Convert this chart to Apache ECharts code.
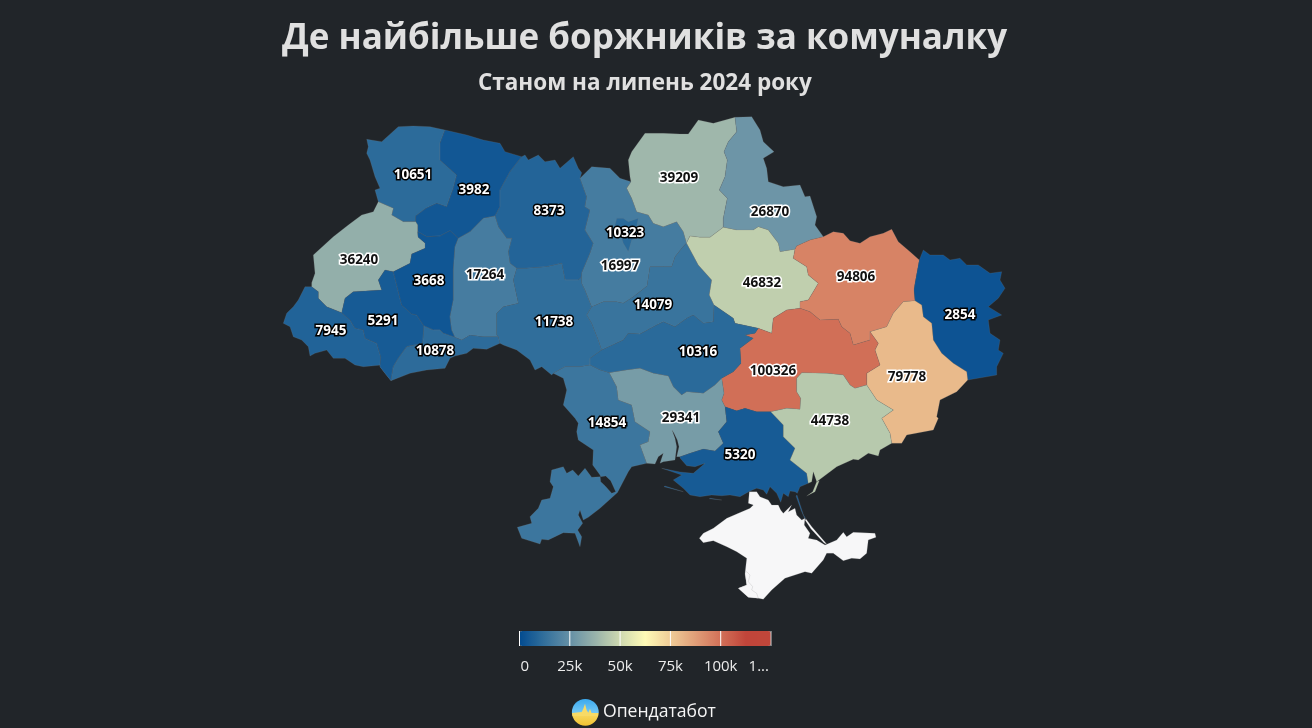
<!DOCTYPE html>
<html>
<head>
<meta charset="utf-8">
<title>Де найбільше боржників за комуналку</title>
<script src="https://cdn.jsdelivr.net/npm/echarts@6/dist/echarts.min.js"></script>
<style>
  html, body { margin: 0; padding: 0; background: #212529; }
  #chart { width: 1312px; height: 728px; }
</style>
</head>
<body>
<div id="chart"></div>
<script>
// дані
const regions = ['Волинська', 'Рівненська', 'Житомирська', 'Львівська', 'Закарпатська', 'Івано-Франківська',
  'Тернопільська', 'Хмельницька', 'Чернівецька', 'Вінницька', 'Київська', 'Київ', 'Черкаська', 'Чернігівська',
  'Сумська', 'Полтавська', 'Харківська', 'Луганська', 'Донецька', 'Дніпропетровська', 'Кіровоградська',
  'Одеська', 'Миколаївська', 'Херсонська', 'Запорізька'];
const debtors = [10651, 3982, 8373, 36240, 7945, 5291,
  3668, 17264, 10878, 11738, 16997, 10323, 14079, 39209,
  26870, 46832, 94806, 2854, 79778, 100326, 10316,
  14854, 29341, 5320, 44738];
const tickValues = [0, 25000, 50000, 75000, 100000, 125000];
const tickLabels = ['0', '25k', '50k', '75k', '100k', '1...'];
const scaleColors = ['#024b90', '#33709c', '#6590a6', '#98b2aa', '#ced9b0', '#fefab6',
  '#efcc97', '#e09e78', '#d17058', '#c0453a', '#c0463a'];

// контури областей (базова карта), спільні межі задані один раз
const arcs = {
  volyn_outer: '378.3,201.7 375,190 380,188.3 375,176.7 370,160 366.7,153.3 368.3,146.7 366.7,139.3 381.7,141.7 398.3,126.7 413.3,126 430,126.7 445,130',
  volyn_rivne: '445,130 440,143.3 440,160 456.7,175 453.3,188.3 446.7,206.7 436.7,203.3 426,208.3 415.7,216 415.7,221.7',
  lviv_volyn: '415.7,221.7 403.3,221.7 391.7,215 393.3,208.3 378.3,201.7',
  rivne_north: '445,130 466.7,135 483.3,140 500,143.3 505,151.7 521.7,156.7',
  rivne_zhyt: '521.7,156.7 510,171.7 500,190 500,206.7 495,216',
  rivne_khm: '495,216 483.3,218.3 470,231.7 458.3,238.3',
  rivne_tern: '458.3,238.3 450,230.7 440,236 426.7,236.7 417.7,231.7',
  rivne_lviv: '417.7,231.7 417.7,225 415.7,221.7',
  lviv_outer: '378.3,201.7 373.3,211.7 361.7,215 348.3,225 333.3,236.7 313.3,255 315,273.3 311.7,282.7 311.7,286.7',
  lviv_zak: '311.7,286.7 318.3,291.7 318.3,298.3 326.7,306.7 341.7,312.7',
  lviv_if: '341.7,312.7 345,298.3 353.3,291.7 381.7,290 378.3,280 385,270 393.3,271.7',
  lviv_tern: '393.3,271.7 410,263.3 411.7,254 425,248.3 425,243 418,237 417.7,231.7',
  tern_khm: '458.3,238.3 455,246.7 453.3,270 453.3,300 450,316.7 451.7,330 455,337.3',
  tern_if: '393.3,271.7 398.3,291.7 401.7,305 411.7,314 416.7,315 424,326',
  tern_chern: '424,326 433.3,330 440,330 443.3,333.3 455,337.3',
  if_chern: '424,326 422.7,343.3 406.7,346.7 398.3,358.3 393.3,366.7 391,380.7',
  if_zak: '341.7,312.7 350,320 355,328.3 363.3,330 365,338.3 376.7,343.3 380.7,356.7 380,366.7 385,373.3 391,380.7',
  zak_outer: '311.7,286.7 305,286.7 298.3,300 293.3,306.7 286.7,313.3 283.3,323.3 290,326.7 293.3,336.7 301.7,340 308.3,346.7 310,356 315,353.3 326.7,350 333.3,358.3 345,358.3 355,365 363.3,366.7 381.7,365 391,380.7',
  chern_khm: '455,337.3 461.7,340 470,335 483.3,336.7 498.3,336.7',
  chern_outer: '391,380.7 410,373.3 426.7,370 445,368.3 450,358.3 455,356 466.7,353.3 473.3,348.3 486.7,349.3 500,343.3',
  chern_vinn: '498.3,336.7 500,343.3',
  khm_vinn: '516.7,268.3 513.3,280 518.3,303.3 503.3,306.7 496.7,313.3 496.7,335 498.3,336.7',
  khm_zhyt: '495,216 498.3,226.7 506.7,238.3 511.7,238.3 508.3,251.7 510,263.3 516.7,268.3',
  zhyt_vinn: '516.7,268.3 526.7,268.3 546.7,266.7 561.7,263.3 565,280 578.3,280 581.7,276.7',
  zhyt_kyiv: '580,178.3 586.7,196.7 585,206.7 590,210 585,230 593.3,243.3 590,253.3 581.7,273 581.7,276.7',
  zhyt_north: '521.7,156.7 525,155 528.3,160 538.3,155 545,161.7 555,160 560,168.3 573.3,156.7 578.3,168.3 581.7,172.7 580,178.3',
  kyiv_north: '580,178.3 591.7,166.7 610,168.3 620,178.3 631,181.7',
  kyiv_chern: '631,181.7 626.7,188.3 631.7,198.3 636.7,211.7 648.3,215 653.3,223.3 663.3,226.7 676.7,221.7 683.3,231.7 686.5,243',
  kyiv_vinn: '581.7,276.7 581.7,283.3 585,290 591.7,306.7',
  kyiv_cherk: '591.7,306.7 603.3,301.7 616.7,301.7 623.3,303.3 633.3,296.7 647,286 650,266.7 663.3,266.7 671.7,266.7 675,256.7 681.7,248.3 686.5,243',
  chern_north: '631,181.7 630,176.7 628.3,160 631.7,151.7 645,133.3 663.3,133.3 680,134 688.3,134 698.3,120 713.3,123.3 735,117.3',
  chern_sumy: '735,117.3 736.7,131.7 728.3,141.7 724,151.7 727.3,160 725,176.7 719.3,190 727.3,198.3 723.3,218.3 723.3,227.3',
  chern_pol: '686.5,243 690,236 700,237.3 710,237.3 723.3,227.3',
  sumy_outer: '735,117.3 751.7,116.7 760,130 763.3,141.7 774,151.7 763.3,158.3 766.7,168.3 768.3,181.7 783.3,186.7 800,185 805,196.7 810,196 816.7,216.7 815,225 823.3,236.7',
  sumy_pol: '723.3,227.3 736.7,230 753.3,230 758.3,226.7 768.3,230 778.3,243.3 780,251.7 795,249.3',
  sumy_kh: '823.3,236.7 810,240 796.7,246 795,249.3',
  kh_outer: '823.3,236.7 833.3,231.7 843.3,233.3 850,240.7 860,243.3 870,236.7 883.3,233.3 891.7,229.3 898.3,241.7 910,251.7 919.3,260',
  kh_luh: '919.3,260 915,283.3 914,290 915,300.7',
  kh_don: '870,331.7 886.7,326.7 893.3,313.3 903.3,301.7 915,300.7',
  kh_dni: '800,308.3 810,311.7 820,320 838.3,319.3 841.7,326.7 850,333.3 853.3,345 870,340 870,331.7',
  kh_pol: '795,249.3 793.3,258.3 806.7,266.7 808.3,275 818.3,283.3 813.3,291.7 808.3,300 800,301.7 800,308.3',
  pol_dni: '758.3,328.3 771.7,333.3 773.3,318.3 786.7,310 800,308.3',
  pol_kir: '714,305 733.3,318.3 735,323.3 758.3,328.3',
  pol_cherk: '686.5,243 698.3,265 711.7,280 709.3,295 714,305',
  cherk_kir: '601.7,350 623.3,340 628.3,333.3 640,334 656.7,325 663.3,321.7 675,326.7 686.7,318.3 693.3,315 703.3,323.3 713.3,321.7 714,305',
  vinn_cherk: '591.7,306.7 586.7,315 591.7,323.3 598.3,340 601.7,350',
  vinn_kir: '601.7,350 590,358.3 590,365',
  vinn_od: '590,365 580,366.7 565,366.7 553.3,373.3',
  vinn_outer: '500,343.3 503.3,345 516.7,350 530,360 535,370 541.7,366.7 551.7,375 553.3,373.3',
  kir_od: '609.3,372.7 600,370 590,365',
  kir_myk: '609.3,372.7 626.7,370 640,368.3 653.3,373.3 668.3,376 673.3,386.7 681.7,395 686.7,391.7 703.3,393.3 715,385 721.7,378.3',
  kir_dni: '758.3,328.3 755,333.3 745,335 753.3,338.3 740,348.3 741,363.3 733.3,371.7 721.7,378.3',
  dni_myk: '721.7,378.3 724,393.3 721.7,400 725,406.7',
  dni_khe: '725,406.7 736.7,410.7 745,408.3 756.7,411.7 770.7,411.7',
  dni_zap: '770.7,411.7 786.7,408.3 800,409.3 800.7,398.3 796.7,391.7 796.7,378.3 801.7,372.7 826.7,373.3 843.3,375 850,385 855,388.3 866.7,385',
  dni_don: '870,331.7 878.3,343.3 875,350 880,365 866.7,373.3 866.7,385',
  don_luh: '915,300.7 921.7,305 923.3,316.7 931.7,323.3 933.3,340 941.7,353.3 953.3,363.3 966.7,371.7 967.7,380',
  luh_outer: '919.3,260 923.3,250 930,255 943.3,255 950,260 960,258.3 966.7,265 978.3,265 990,273.3 1001.7,271.7 1000,280 1005,288.3 998.3,298.3 988.3,306.7 1001.7,315 988.3,320 990,333.3 1000,340 998.3,350 1003.3,353.3 996.7,366.7 996.7,375 967.7,380',
  don_outer: '967.7,380 956.7,391.7 940,400 936.7,416.7 938.3,418.3 933.3,430 906.7,435 901.7,443.3 891.7,443.3',
  don_zap: '866.7,385 876.7,400 893.3,410 881.7,418.3 890,433.3 891.7,443.3',
  zap_coast: '891.7,443.3 880,450 878.3,456 868.3,453.3 858.3,460 853.3,459.3 836.7,466.7 816.7,481.7 813.3,471.7 811.7,481.7 808.3,483.3',
  zap_khe: '770.7,411.7 783.3,425 783.3,436.7 795,448.3 790,460 806.7,473.3 808.3,483.3',
  khe_myk: '725,406.7 726.7,421.7 718.3,431.7 723.3,443.3 715,451 703.3,449 690,453.3 680,456.7',
  khe_coast: '808.3,483.3 800,486.7 797.3,493.3 795,491.7 790,491 788.3,496.7 783.3,493.3 780.7,502.3 776.7,493.3 770,486.7 766.7,494.3 763.3,490 756.7,488.3 750,491 740,496.7 730,495 721.7,495.7 711.7,495 700,496.7 690,495 683.3,488.3 673.3,480 681.7,475 670,471 661.7,468.3 680,472 693.3,473.3 705,463.3 695,466.7 686.7,465.7 680,458 680,456.7',
  myk_coast: '646.7,463.3 655,464 658.3,456.7 663.3,453.3 660,463.3 663.3,461.7 675,460 676.7,446.7 675,438.3 672,430 674,433.3 677.3,440 679,446.7 676.7,456.7 680,456.7',
  myk_od: '609.3,372.7 616.7,386.7 618.3,400 631.7,405 635,421.7 650,431.7 648.3,441.7 640,445 646.7,463.3',
  od_outer: '553.3,373.3 563.3,378.3 566.7,390 563.3,405 575,418.3 578.3,423.3 576.7,431.7 578.3,440 593.3,450 592.7,465 600,475 600.7,476.7 605.7,476 610.7,480.7 615.7,491.7 611.7,493.3 605,485.7 600.7,481.7 600.2,476.7 591.7,477.3 585,468.3 578.3,476 572.7,470 566.7,473.3 563.3,466.7 551.7,470 550,481.7 553.3,486.7 550,498.3 541.7,500 538.3,508.3 530,516.7 531.7,523.3 517.3,527.3 521.7,538.3 540,544 541.7,539.3 548.3,540 563.3,532.7 575,533.3 580,546.7 581.7,536.7 577.7,530 582.7,523.3 578.3,515 580,510 583.3,520 588.3,517.3 600,508.3 617.5,492.5 628.3,471.7 631.7,466.7 646.7,463.3'
};
const regionArcs = {
  'Волинська': ['volyn_outer', 'volyn_rivne', 'lviv_volyn'],
  'Рівненська': ['rivne_north', 'rivne_zhyt', 'rivne_khm', 'rivne_tern', 'rivne_lviv', '-volyn_rivne'],
  'Житомирська': ['zhyt_north', 'zhyt_kyiv', '-zhyt_vinn', '-khm_zhyt', '-rivne_zhyt'],
  'Львівська': ['lviv_outer', 'lviv_zak', 'lviv_if', 'lviv_tern', 'rivne_lviv', 'lviv_volyn'],
  'Закарпатська': ['zak_outer', '-if_zak', '-lviv_zak'],
  'Івано-Франківська': ['lviv_if', 'tern_if', 'if_chern', '-if_zak'],
  'Тернопільська': ['tern_if', 'tern_chern', '-tern_khm', 'rivne_tern', '-lviv_tern'],
  'Хмельницька': ['rivne_khm', 'tern_khm', 'chern_khm', '-khm_vinn', '-khm_zhyt'],
  'Чернівецька': ['tern_chern', 'chern_khm', 'chern_vinn', '-chern_outer', '-if_chern'],
  'Вінницька': ['zhyt_vinn', 'kyiv_vinn', 'vinn_cherk', 'vinn_kir', 'vinn_od', '-vinn_outer', '-chern_vinn', '-khm_vinn'],
  'Київська': ['kyiv_north', 'kyiv_chern', '-kyiv_cherk', '-kyiv_vinn', '-zhyt_kyiv'],
  'Черкаська': ['kyiv_cherk', 'pol_cherk', '-cherk_kir', '-vinn_cherk'],
  'Чернігівська': ['chern_north', 'chern_sumy', '-chern_pol', '-kyiv_chern'],
  'Сумська': ['sumy_outer', 'sumy_kh', '-sumy_pol', '-chern_sumy'],
  'Полтавська': ['chern_pol', 'sumy_pol', 'kh_pol', '-pol_dni', '-pol_kir', '-pol_cherk'],
  'Харківська': ['kh_outer', 'kh_luh', '-kh_don', '-kh_dni', '-kh_pol', '-sumy_kh'],
  'Луганська': ['luh_outer', '-don_luh', '-kh_luh'],
  'Донецька': ['don_luh', 'don_outer', '-don_zap', '-dni_don', 'kh_don'],
  'Дніпропетровська': ['pol_dni', 'kh_dni', 'dni_don', '-dni_zap', '-dni_khe', '-dni_myk', '-kir_dni'],
  'Кіровоградська': ['cherk_kir', 'pol_kir', 'kir_dni', '-kir_myk', 'kir_od', '-vinn_kir'],
  'Одеська': ['vinn_od', 'od_outer', '-myk_od', 'kir_od'],
  'Миколаївська': ['kir_myk', 'dni_myk', 'khe_myk', '-myk_coast', '-myk_od'],
  'Херсонська': ['dni_khe', 'zap_khe', 'khe_coast', '-khe_myk'],
  'Запорізька': ['dni_zap', 'don_zap', 'zap_coast', '-zap_khe']
};

// окремі шматки: коси, Київ, Крим
const extraRings = {
  'Херсонська': [
    '797,495 803.5,515 806,519 804.5,518 801,510 796,496',
    '665,486 683.3,491.7 682.7,492.3 664,486.7',
    '710,498.3 721.7,500 721.7,501 709.3,498.7'
  ],
  'Запорізька': ['819.3,480.7 815,491.7 806.7,496 812.7,491.7 816.7,481.7']
};
const standaloneRings = {
  'Київ': ['616.7,218.3 623.3,218.3 628.3,221.7 638.3,218.3 636.7,226.7 640,236.7 631.7,240 628.3,251.7 623.3,243.3 620,233.3 615,225'],
  'Крим': [
    '749.3,491.7 756.7,491.7 760,496.7 768.3,500 771.7,505 778.3,505 780.7,510 783.3,513.3 791.7,505 788.3,511.7 795,508.3 796.7,515 801.7,520 805,518.3 804.3,525 810,533.3 808.3,538.3 816.7,540 825,545 836.7,540 843.3,532.3 846.7,536.7 853.3,532.3 875,533.3 876,537.3 868.3,540 866.7,553.3 860,559 851.7,558.3 843.3,560.7 833.3,553.3 826.7,553.3 823.3,560 811.7,573.3 805,571.7 785,578.3 771.7,590 763.3,599.3 758.3,598.3 748.3,597.3 738.3,588.3 746.7,585 745,573.3 746.7,558.3 736.7,551.7 726.7,546.7 713.3,540.7 703.3,542.7 699.3,538.3 703.3,533.3 713.3,528.3 726.7,518.3 738.3,513.3 750,508.3 753.3,505 748.3,503.3',
    '806,519 812,527 825,542 827,544.5 824,543 811,529 805,520'
  ],
  'Севастополь': ['746.7,571.7 750,575 748.3,581.7 752.7,586.7 751.7,590 756.7,593.3 758.3,598.3 748.3,597.3 738.3,588.3 746.7,585 745,573.3']
};
const labelAt = {
  'Волинська': [413, 175], 'Рівненська': [474, 190], 'Житомирська': [549, 211], 'Львівська': [359, 260],
  'Закарпатська': [331, 331], 'Івано-Франківська': [383, 321], 'Тернопільська': [429, 281], 'Хмельницька': [485, 275],
  'Чернівецька': [435, 351], 'Вінницька': [554, 322], 'Київська': [620, 266], 'Київ': [625, 233],
  'Черкаська': [653, 305], 'Чернігівська': [679, 178], 'Сумська': [770, 212], 'Полтавська': [762, 283],
  'Харківська': [856, 277], 'Луганська': [960, 315], 'Донецька': [907, 377], 'Дніпропетровська': [773, 371],
  'Кіровоградська': [698, 352], 'Одеська': [607, 423], 'Миколаївська': [681, 418], 'Херсонська': [740, 455],
  'Запорізька': [830, 421]
};

const parseRing = s => s.split(' ').map(p => p.split(',').map(Number));
function arcRing(names) {
  let ring = [];
  names.forEach(n => {
    const rev = n[0] === '-';
    const pts = parseRing(arcs[rev ? n.slice(1) : n]);
    ring = ring.concat(rev ? pts.reverse() : pts);
  });
  ring.push(ring[0]);
  return ring;
}
function closed(s) {
  const r = parseRing(s);
  r.push(r[0]);
  return r;
}
function feature(name, rings) {
  return {
    type: 'Feature',
    properties: { name: name, cp: labelAt[name] },
    geometry: { type: 'MultiPolygon', coordinates: rings.map(r => [r]) }
  };
}
const features = [];
regions.forEach(name => {
  if (regionArcs[name]) {
    features.push(feature(name, [arcRing(regionArcs[name])].concat((extraRings[name] || []).map(closed))));
  } else {
    features.push(feature(name, standaloneRings[name].map(closed)));
  }
});
features.push(feature('Крим', standaloneRings['Крим'].map(closed)));
features.push(feature('Севастополь', standaloneRings['Севастополь'].map(closed)));
echarts.registerMap('ua', { type: 'FeatureCollection', features: features });

// межі карти: координати вже в пікселях сторінки
let x0 = Infinity, y0 = Infinity, x1 = -Infinity, y1 = -Infinity;
features.forEach(f => f.geometry.coordinates.forEach(poly => poly[0].forEach(p => {
  x0 = Math.min(x0, p[0]); x1 = Math.max(x1, p[0]);
  y0 = Math.min(y0, p[1]); y1 = Math.max(y1, p[1]);
})));

const barLeft = 519.5, barTop = 631, barWidth = 251.5, barHeight = 15;
const scaleMax = tickValues[tickValues.length - 1];
const legendFont = '15px "Open Sans"';
const legendGraphics = [];
tickValues.forEach((v, i) => {
  const x = barLeft + v / scaleMax * barWidth;
  legendGraphics.push({
    type: 'line', silent: true, z: 100,
    shape: { x1: x, y1: barTop, x2: x, y2: barTop + barHeight },
    style: { stroke: i === tickValues.length - 1 ? '#cfcfcf' : '#fff', lineWidth: 1 }
  });
  legendGraphics.push({
    type: 'text', silent: true, z: 100,
    x: i === 0 ? x + 1 : (i === tickValues.length - 1 ? x - 2 : x),
    y: 666.5,
    style: {
      text: tickLabels[i], fill: '#ececec', font: legendFont, verticalAlign: 'middle',
      align: i === 0 ? 'left' : (i === tickValues.length - 1 ? 'right' : 'center')
    }
  });
});

const chart = echarts.init(document.getElementById('chart'));
chart.setOption({
  backgroundColor: '#212529',
  animation: false,
  title: [
    { text: 'Де найбільше боржників за комуналку', left: 277, top: 17,
      textStyle: { color: '#e0e0e0', fontFamily: 'Open Sans', fontSize: 35, fontWeight: 'bold' } },
    { text: 'Станом на липень 2024 року', left: 473, top: 67,
      textStyle: { color: '#e0e0e0', fontFamily: 'Open Sans', fontSize: 22.5, fontWeight: 'bold' } }
  ],
  visualMap: {
    type: 'continuous',
    orient: 'horizontal',
    min: 0,
    max: scaleMax,
    left: barLeft,
    top: barTop,
    itemWidth: barHeight,
    itemHeight: barWidth,
    padding: 0,
    text: null,
    showLabel: false,
    calculable: false,
    hoverLink: false,
    seriesIndex: 0,
    inRange: { color: scaleColors }
  },
  series: [{
    type: 'map',
    map: 'ua',
    projection: { project: p => p, unproject: p => p },
    left: x0,
    top: y0,
    width: x1 - x0,
    height: y1 - y0,
    roam: false,
    selectedMode: false,
    silent: true,
    itemStyle: { areaColor: '#f7f7f8', borderColor: 'rgba(130,130,130,0.38)', borderWidth: 0.5 },
    emphasis: { disabled: true },
    label: { show: false },
    data: regions.map((name, i) => {
      const light = debtors[i] >= 16000;
      return {
        name: name,
        value: debtors[i],
        label: {
          show: true,
          formatter: String(debtors[i]),
          fontFamily: 'Open Sans',
          fontSize: 13.5,
          fontWeight: 'bold',
          color: light ? '#111' : '#fff',
          textBorderColor: light ? '#fff' : '#000',
          textBorderWidth: 3
        }
      };
    })
  }],
  graphic: legendGraphics.concat([
    {
      type: 'circle', silent: true, z: 100,
      shape: { cx: 585.3, cy: 712.3, r: 13.4 },
      style: {
        fill: new echarts.graphic.LinearGradient(0, 0, 0, 1, [
          { offset: 0, color: '#3aa9ee' }, { offset: 0.52, color: '#74c8f5' },
          { offset: 0.52, color: '#f7da66' }, { offset: 1, color: '#f2c231' }
        ])
      }
    },
    {
      type: 'polygon', silent: true, z: 101,
      shape: { points: [[572.5, 713], [581.7, 712], [583.3, 708.7], [585, 703.7], [586.7, 710.3], [588.3, 712.7], [590, 708.7], [591.7, 713.5], [598, 713], [598, 716], [572.5, 716]] },
      style: { fill: '#f7da66' }
    },
    {
      type: 'text', silent: true, z: 100,
      x: 603, y: 711.5,
      style: { text: 'Опендатабот', fill: '#f5f5f5', font: '17.6px "Open Sans"', verticalAlign: 'middle', align: 'left' }
    }
  ])
});
</script>
</body>
</html>
